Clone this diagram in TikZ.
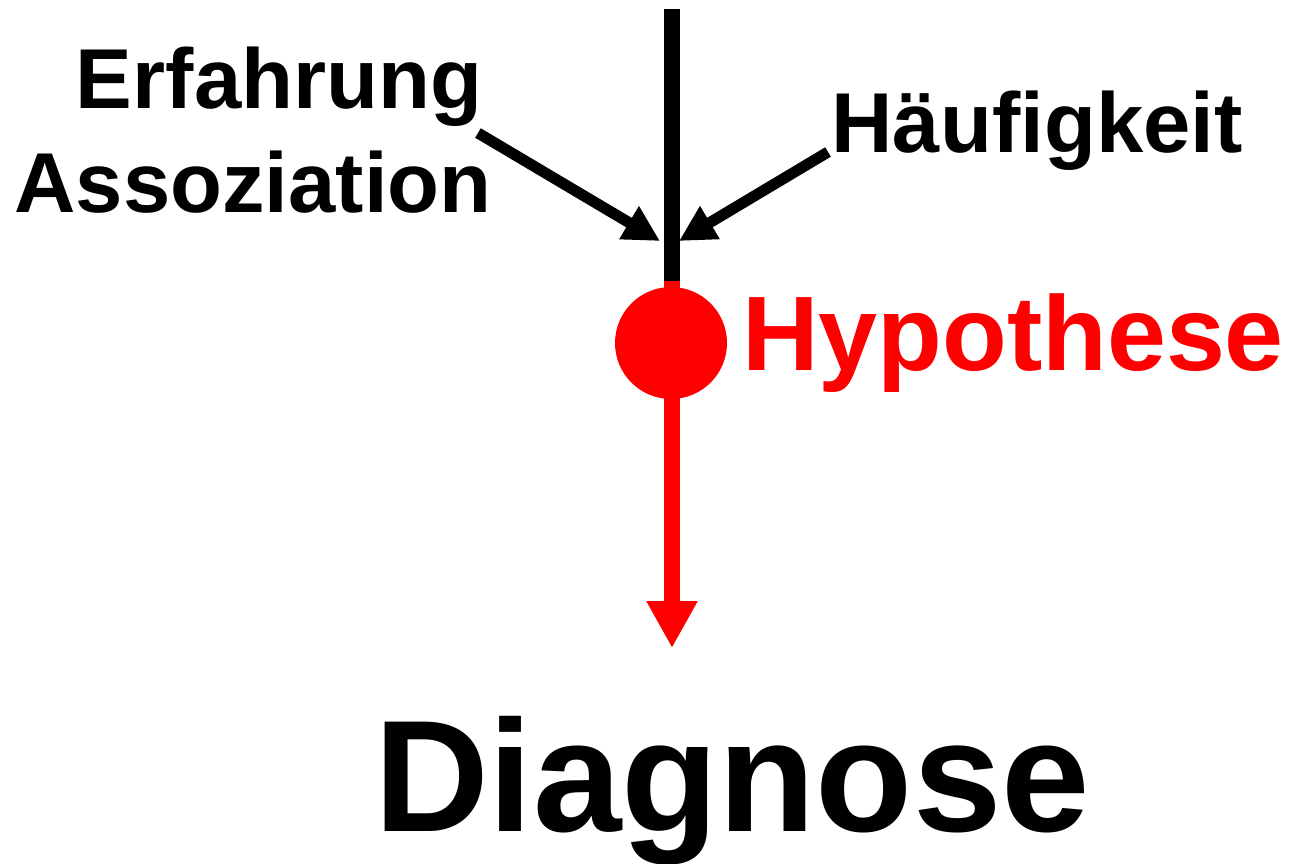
\documentclass[tikz,border=0pt]{standalone}
\usepackage{fontspec}
\setmainfont{Liberation Sans}
\usetikzlibrary{arrows.meta}

\tikzset{
  lbl/.style={anchor=base, inner sep=0pt, font=\bfseries\fontsize{85}{90}\selectfont},
  feed/.style={line width=11pt, -{Triangle[length=36pt,width=36pt]}},
}

\begin{document}
\begin{tikzpicture}[x=1pt,y=-1pt]
    \useasboundingbox (0,0) rectangle (1289,863);

    % draw labels
    \node[lbl] (erf) at (279,108) {Erfahrung};
    \node[lbl] (ass) at (253,212) {Assoziation};
    \node[lbl] (haeu) at (1037,152) {Häufigkeit};
    \node[lbl, red, font=\bfseries\fontsize{106}{110}\selectfont] (hyp) at (1013,370) {Hypothese};
    \node[lbl, font=\bfseries\fontsize{159}{170}\selectfont] (diag) at (732,831) {Diagnose};

    % draw vertical line
    \coordinate (top) at (672,9);
    \coordinate (join) at (672,281);
    \coordinate (tip) at (672,648);
    \draw[line width=16pt] (top) -- (join);
    \draw[red, line width=16pt, -{Triangle[length=47pt,width=48pt]}] (join) -- (tip);
    \node[circle, fill=red, minimum size=112pt, inner sep=0pt] (dot) at (671,343) {};

    % draw side arrows
    \coordinate (lstart) at (478,133);
    \coordinate (lend) at (660,241);
    \coordinate (rstart) at (828,152);
    \coordinate (rend) at (679,241);
    \draw[feed] (lstart) -- (lend);
    \draw[feed] (rstart) -- (rend);
\end{tikzpicture}
\end{document}
